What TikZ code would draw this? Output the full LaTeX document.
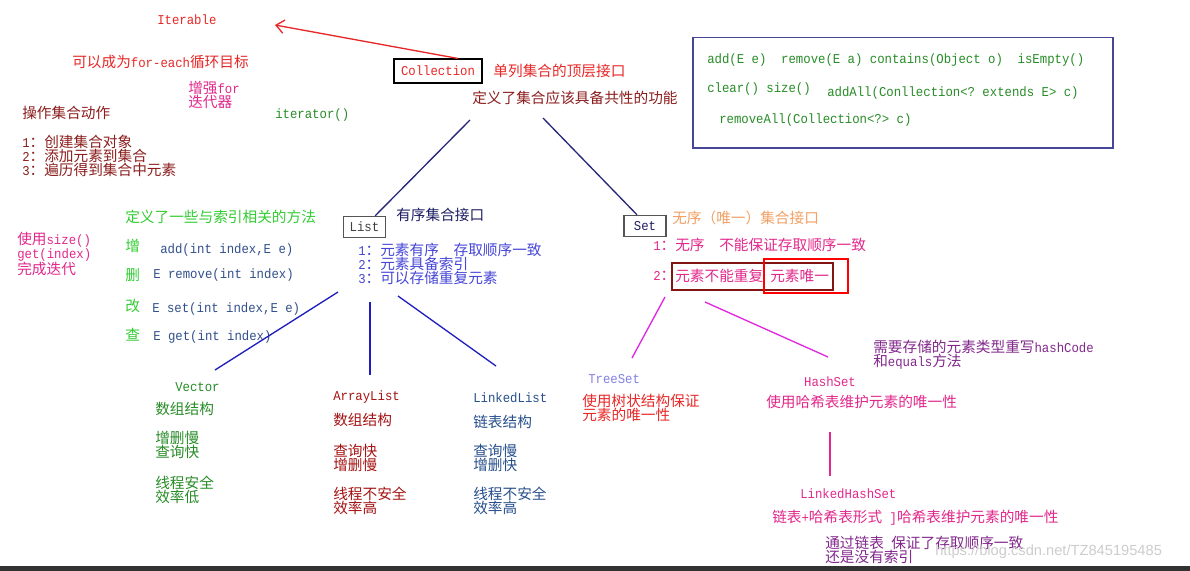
\documentclass[tikz,border=0pt]{standalone}
\usepackage{fontspec}
\setmainfont{Noto Sans CJK SC}
\newfontfamily\monofnt{Liberation Mono}[Scale=0.92, FakeStretch=0.913]
\newfontfamily\markfnt{Liberation Sans}
\usepackage{tikz}
\usetikzlibrary{arrows.meta, positioning}
\usepackage{xcolor}
\definecolor{iterred}{RGB}{232, 40, 40}
\definecolor{ochrered}{RGB}{140, 30, 30}
\definecolor{arrred}{RGB}{165, 20, 20}
\definecolor{pinkish}{RGB}{226, 40, 140}
\definecolor{methgreen}{RGB}{40, 140, 40}
\definecolor{brightgreen}{RGB}{50, 205, 50}
\definecolor{idxblue}{RGB}{50, 80, 140}
\definecolor{lnkblue}{RGB}{40, 80, 140}
\definecolor{listblue}{RGB}{70, 70, 215}
\definecolor{navyish}{RGB}{30, 30, 100}
\definecolor{lineblue}{RGB}{30, 30, 190}
\definecolor{collline}{RGB}{40, 40, 120}
\definecolor{orangeish}{RGB}{242, 160, 100}
\definecolor{violetline}{RGB}{225, 40, 225}
\definecolor{purpleish}{RGB}{130, 40, 140}
\definecolor{treeblue}{RGB}{130, 130, 230}
\definecolor{boxblue}{RGB}{70, 70, 150}
\definecolor{boxgray}{RGB}{85, 85, 85}
\definecolor{boxred}{RGB}{130, 20, 20}
\definecolor{wmgray}{RGB}{205, 205, 205}
\definecolor{barblack}{RGB}{50, 50, 50}
\newcommand{\en}[1]{{\monofnt #1}}
\newcommand{\fs}{\fontsize{11}{10.5}\selectfont\frenchspacing}

\begin{document}
\begin{tikzpicture}[x=0.75pt, y=-0.75pt, font=\fs,
    txt/.style={inner sep=0pt, anchor=west, align=left},
    box/.style={draw, inner sep=0pt, minimum height=16pt, line width=0.8pt},
    link/.style={line width=1pt}]
    \useasboundingbox (0,0) rectangle (1190,571);
    \fill[white] (0,0) rectangle (1190,571);

    % top: Iterable and Collection
    \node[txt, text=iterred] (iter) at (157,20) {\en{Iterable}};
    \node[txt, text=iterred] (foreach) at (72,62) {可以成为\en{for-each}循环目标};
    \node[txt, text=pinkish] (enhfor) at (188,95) {增强\en{for}\\迭代器};
    \node[txt, text=ochrered] (ops) at (22,113) {操作集合动作};
    \node[txt, text=ochrered] (steps) at (22,156) {\en{1}：创建集合对象\\\en{2}：添加元素到集合\\\en{3}：遍历得到集合中元素};
    \node[txt, text=methgreen] (itr) at (275,115) {\en{iterator()}};

    \node[box, text=iterred, minimum width=66pt, minimum height=18pt] (coll) at (438,71) {\en{Collection}};
    \node[txt, text=iterred, right=8pt of coll] (colltop) {单列集合的顶层接口};
    \node[txt, text=ochrered] (colldef) at (472,98) {定义了集合应该具备共性的功能};

    % common methods
    \node[draw=boxblue, line width=1pt, minimum width=315pt, minimum height=83pt] (mbox) at (903,92.5) {};
    \node[txt, text=methgreen] (m1) at (707,60) {\en{add(E e)~~remove(E a) contains(Object o)~~isEmpty()}};
    \node[txt, text=methgreen] (m2) at (707,89) {\en{clear() size()}};
    \node[txt, text=methgreen] (m3) at (827,93) {\en{addAll(Conllection<? extends E> c)}};
    \node[txt, text=methgreen] (m4) at (719,120) {\en{removeAll(Collection<?> c)}};

    % List
    \node[box, draw=boxgray, text=darkgray, minimum width=32pt] (list) at (364.5,227) {\en{List}};
    \node[txt, text=navyish] (listdef) at (396,215) {有序集合接口};
    \node[txt, text=listblue] (listprops) at (358,264) {\en{1}：元素有序　存取顺序一致\\\en{2}：元素具备索引\\\en{3}：可以存储重复元素};

    \node[txt, text=brightgreen] (idxdef) at (125,217) {定义了一些与索引相关的方法};
    \node[txt, text=pinkish] (sizeget) at (17,254) {使用\en{size()}\\\en{get(index)}\\完成迭代};
    \node[txt, text=brightgreen] (zeng) at (125,246) {增};
    \node[txt, text=brightgreen] (shan) at (125,275) {删};
    \node[txt, text=brightgreen] (gai) at (125,306) {改};
    \node[txt, text=brightgreen] (cha) at (125,335) {查};
    \node[txt, text=idxblue] (addi) at (160,250) {\en{add(int index,E e)}};
    \node[txt, text=idxblue] (removei) at (153,275) {\en{E remove(int index)}};
    \node[txt, text=idxblue] (seti) at (152,309) {\en{E set(int index,E e)}};
    \node[txt, text=idxblue] (geti) at (153,337) {\en{E get(int index)}};

    % Set
    \node[box, draw=boxgray, text=navyish, minimum width=31.5pt] (set) at (645,226) {\en{Set}};
    \node[txt, text=orangeish] (setdef) at (672,218) {无序（唯一）集合接口};
    \node[txt, text=pinkish] (setp1) at (653,245) {\en{1}：无序　不能保证存取顺序一致};
    \node[txt, text=pinkish] (setp2) at (653,276) {\en{2}：};
    \node[draw=boxred, line width=1.3pt, inner sep=0pt, minimum width=121pt, minimum height=20pt] (noreq) at (752.5,276.5) {};
    \node[draw=red, line width=1pt, inner sep=0pt, minimum width=63pt, minimum height=25.5pt] (uniq) at (806,276) {};
    \node[txt, text=pinkish] (noreqtxt) at (675,276) {元素不能重复};
    \node[txt, text=pinkish] (uniqtxt) at (770,276) {元素唯一};

    % List implementations
    \node[txt, text=methgreen] (vector) at (175,387) {\en{Vector}};
    \node[txt, text=methgreen] (vecstruct) at (155,409) {数组结构};
    \node[txt, text=methgreen] (vecspeed) at (155,445) {增删慢\\查询快};
    \node[txt, text=methgreen] (vecsafe) at (155,490) {线程安全\\效率低};

    \node[txt, text=arrred] (arraylist) at (333,397) {\en{ArrayList}};
    \node[txt, text=arrred] (arrstruct) at (333,420) {数组结构};
    \node[txt, text=arrred] (arrspeed) at (333,457.5) {查询快\\增删慢};
    \node[txt, text=arrred] (arrsafe) at (333,501) {线程不安全\\效率高};

    \node[txt, text=lnkblue] (linkedlist) at (473,398) {\en{LinkedList}};
    \node[txt, text=lnkblue] (lnkstruct) at (473,422) {链表结构};
    \node[txt, text=lnkblue] (lnkspeed) at (473,457.5) {查询慢\\增删快};
    \node[txt, text=lnkblue] (lnksafe) at (473,501) {线程不安全\\效率高};

    % Set implementations
    \node[txt, text=treeblue] (treeset) at (588,379) {\en{TreeSet}};
    \node[txt, text=iterred] (treeinfo) at (582,408) {使用树状结构保证\\元素的唯一性};
    \node[text=pinkish, inner sep=0pt] (hashset) at (830,382) {\en{HashSet}};
    \node[txt, text=pinkish] (hashinfo) at (766,402) {使用哈希表维护元素的唯一性};
    \node[txt, text=purpleish] (hashnote) at (873,355) {需要存储的元素类型重写\en{hashCode}\\和\en{equals}方法};
    \node[txt, text=pinkish] (lhs) at (800,494) {\en{LinkedHashSet}};
    \node[txt, text=pinkish] (lhsinfo) at (772,518) {链表\en{+}哈希表形式\en{~]}哈希表维护元素的唯一性};
    \node[txt, text=purpleish] (lhsnote) at (825,549.5) {通过链表\en{~}保证了存取顺序一致\\还是没有索引};

    \node[txt, text=wmgray, font=\markfnt\fontsize{11}{12}\selectfont] (wm) at (935,552) {https://blog.csdn.net/TZ845195485};
    \fill[barblack] (0,566) rectangle (1190,571);

    % connectors
    \coordinate (itip) at (275,25);
    \draw[link, iterred, -{Straight Barb[length=6pt, width=10pt]}] ([xshift=15pt]coll.north) -- (itip);

    \coordinate (c-left) at (470,120);
    \coordinate (c-right) at (543,118);
    \draw[link, collline] (c-left) -- ([xshift=8pt]list.north);
    \draw[link, collline] (c-right) -- ([xshift=-6pt]set.north);

    \coordinate (l-vec) at (338,292);
    \coordinate (l-arr) at (370,302);
    \coordinate (l-lnk) at (398,296);
    \coordinate (vec-top) at (215,370);
    \coordinate (arr-top) at (370,375);
    \coordinate (lnk-top) at (496,366);
    \draw[link, lineblue] (l-vec) -- (vec-top);
    \draw[link, lineblue] (l-arr) -- (arr-top);
    \draw[link, lineblue] (l-lnk) -- (lnk-top);

    \coordinate (s-tree) at (665,297);
    \coordinate (s-hash) at (705,302);
    \coordinate (tree-top) at (632,358);
    \coordinate (hash-top) at (828,357);
    \draw[link, violetline] (s-tree) -- (tree-top);
    \draw[link, violetline] (s-hash) -- (hash-top);

    \coordinate (h-bot) at (830,432);
    \coordinate (lhs-top) at (830,476);
    \draw[link, pinkish] (h-bot) -- (lhs-top);
\end{tikzpicture}
\end{document}
